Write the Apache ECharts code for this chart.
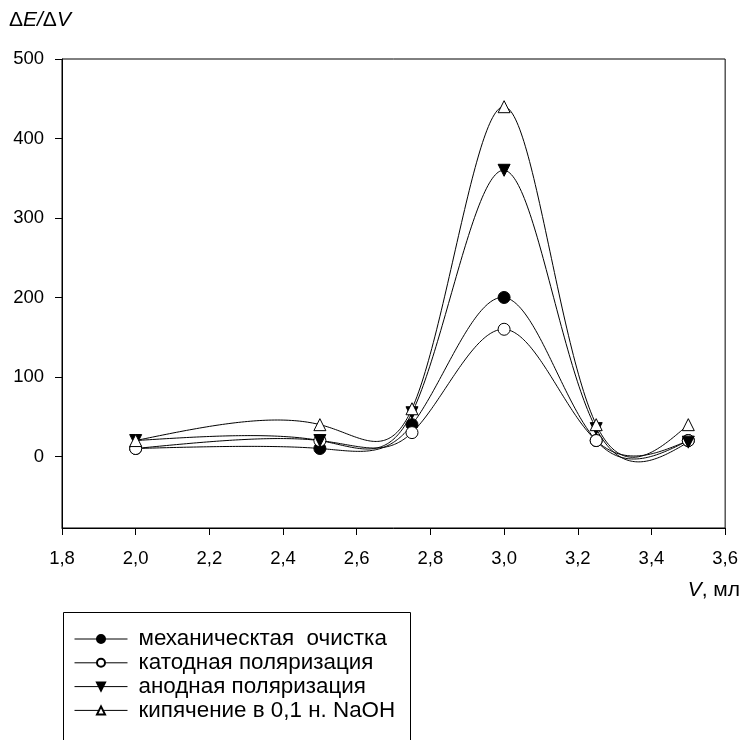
<!DOCTYPE html>
<html><head><meta charset="utf-8">
<script src="https://cdn.jsdelivr.net/npm/echarts@6/dist/echarts.min.js"></script>
<style>html,body{margin:0;padding:0;background:#fff}#c{width:741px;height:740px}</style>
</head><body><div id="c"></div>
<script>
const xValues = [2.0, 2.5, 2.75, 3.0, 3.25, 3.5];
const mechanical = [10, 10, 40, 200, 20, 20];
const cathodic = [10, 20, 30, 160, 20, 20];
const anodic = [20, 20, 55, 360, 35, 18];
const boiling = [20, 40, 60, 440, 40, 40];
const seriesNames = ['механическтая  очистка', 'катодная поляризация', 'анодная поляризация', 'кипячение в 0,1 н. NaOH'];
const yTickLabels = [0, 100, 200, 300, 400, 500];

const FONT = '"Liberation Sans", Arial, sans-serif';
const pairs = arr => xValues.map((x, i) => [x, arr[i]]);
const styles = [
  {symbol: 'circle', fill: '#000'},
  {symbol: 'circle', fill: '#fff'},
  {symbol: 'triangle', fill: '#000', rotate: 180},
  {symbol: 'triangle', fill: '#fff'}
];
const datasets = [mechanical, cathodic, anodic, boiling];

// natural cubic spline second derivatives for knots t and values v
function natural(t, v) {
  const n = v.length, M = new Array(n).fill(0);
  const h = [];
  for (let i = 0; i < n - 1; i++) h.push(t[i + 1] - t[i]);
  const cp = [0], dp = [0];
  for (let i = 1; i < n - 1; i++) {
    const a = h[i - 1], b = 2 * (h[i - 1] + h[i]), c = h[i];
    const r = 6 * ((v[i + 1] - v[i]) / h[i] - (v[i] - v[i - 1]) / h[i - 1]);
    const den = b - a * cp[i - 1];
    cp[i] = c / den;
    dp[i] = (r - a * dp[i - 1]) / den;
  }
  for (let i = n - 2; i >= 1; i--) M[i] = dp[i] - cp[i] * M[i + 1];
  return {M, h};
}
// parametric natural spline through the pixel points (knot spacing = chord^0.25)
function splinePath(pts) {
  const t = [0];
  for (let i = 1; i < pts.length; i++) t.push(t[i - 1] + Math.pow(Math.hypot(pts[i][0] - pts[i - 1][0], pts[i][1] - pts[i - 1][1]), 0.25));
  const xs = pts.map(p => p[0]), ys = pts.map(p => p[1]);
  const X = natural(t, xs), Y = natural(t, ys);
  const ev = (v, S, j, u) => {
    const h = S.h[j], a = 1 - u;
    return a * v[j] + u * v[j + 1] + ((a * a * a - a) * S.M[j] + (u * u * u - u) * S.M[j + 1]) * h * h / 6;
  };
  const out = [];
  for (let j = 0; j < pts.length - 1; j++) {
    const steps = 60;
    for (let s = (j ? 1 : 0); s <= steps; s++) {
      const u = s / steps;
      out.push([ev(xs, X, j, u), ev(ys, Y, j, u)]);
    }
  }
  return out;
}

const curveSeries = datasets.map((d, i) => ({
  type: 'custom', silent: true, z: 1,
  data: pairs(d),
  encode: {x: 0, y: 1},
  renderItem: (params, api) => {
    if (params.dataIndex !== 0) return null;
    const pts = pairs(d).map(p => api.coord(p));
    return {type: 'polyline', shape: {points: splinePath(pts)}, style: {stroke: '#000', lineWidth: 1, fill: null}};
  }
}));

const markerSeries = datasets.map((d, i) => ({
  name: seriesNames[i], type: 'line',
  data: pairs(d),
  symbol: styles[i].symbol, symbolSize: 12, symbolRotate: styles[i].rotate || 0,
  showAllSymbol: true,
  lineStyle: {color: '#000', width: 1, opacity: 0},
  itemStyle: {color: styles[i].fill, borderColor: '#000', borderWidth: 1},
  z: 3 + i
}));

const chart = echarts.init(document.getElementById('c'));
chart.setOption({
  animation: false,
  backgroundColor: '#fff',
  grid: {left: 62, right: 13, top: 59, bottom: 212, show: true, borderColor: '#000', borderWidth: 1},
  xAxis: {
    type: 'value', min: 1.8, max: 3.6, interval: 0.2,
    axisLine: {onZero: false, lineStyle: {color: '#000', width: 1}},
    axisTick: {length: 7, lineStyle: {color: '#000'}},
    splitLine: {show: false},
    axisLabel: {color: '#000', fontFamily: FONT, fontSize: 18.5, margin: 21,
      formatter: v => v.toFixed(1).replace('.', ',')}
  },
  yAxis: {
    type: 'value', min: -90, max: 500,
    axisLine: {show: true, lineStyle: {color: '#000', width: 1}},
    axisTick: {show: true, length: 7, lineStyle: {color: '#000'}, customValues: yTickLabels},
    splitLine: {show: false},
    axisLabel: {color: '#000', fontFamily: FONT, fontSize: 18.5, margin: 18, customValues: yTickLabels}
  },
  legend: {
    orient: 'vertical', left: 74, top: 628, padding: 0, itemGap: 1.8,
    itemWidth: 53, itemHeight: 10,
    lineStyle: {opacity: 1, width: 1, color: '#000'},
    textStyle: {color: '#000', fontFamily: FONT, fontSize: 22.4, lineHeight: 20, padding: [0, 0, 0, 6]},
    data: seriesNames
  },
  graphic: [
    {type: 'rect', shape: {x: 63.5, y: 612.5, width: 347, height: 200}, style: {fill: 'none', stroke: '#000', lineWidth: 1}, silent: true},
    {type: 'text', left: 9, top: 10, style: {
      text: '{n|Δ}{i|E/}{n|Δ}{i|V}', fill: '#000',
      rich: {n: {fontFamily: FONT, fontSize: 21, fill: '#000'}, i: {fontFamily: FONT, fontSize: 21, fontStyle: 'italic', fill: '#000'}}
    }},
    {type: 'text', right: 1, top: 580, style: {
      text: '{i|V}{n|, мл}', fill: '#000',
      rich: {n: {fontFamily: FONT, fontSize: 21, fill: '#000'}, i: {fontFamily: FONT, fontSize: 21, fontStyle: 'italic', fill: '#000'}}
    }}
  ],
  series: curveSeries.concat(markerSeries)
});
</script></body></html>
